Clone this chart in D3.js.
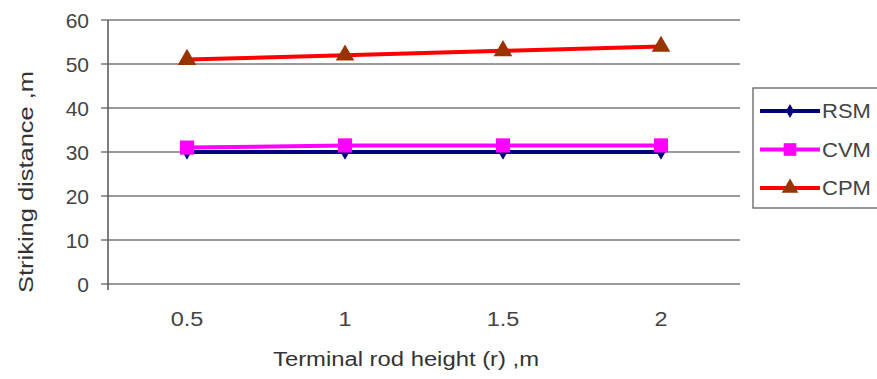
<!DOCTYPE html>
<html><head><meta charset="utf-8">
<script src="https://cdn.jsdelivr.net/npm/d3@7"></script>
<style>body{margin:0;background:#fff;} text{font-family:"Liberation Sans",Arial,sans-serif;}</style>
</head><body><svg id="c" width="877" height="379"></svg>
<script>
const categories = ["0.5", "1", "1.5", "2"];
const rsm = [30, 30, 30, 30];
const cvm = [31, 31.5, 31.5, 31.5];
const cpm = [51, 52, 53, 54];
const yTicks = [0, 10, 20, 30, 40, 50, 60];
const seriesNames = ["RSM", "CVM", "CPM"];

(function () {
const svg = d3.select("#c");
const mLeft = 108, mRight = 740, mTop = 20, mBottom = 284;
const x = d3.scaleBand().domain(categories).range([mLeft, mRight]);
const y = d3.scaleLinear().domain([0, 60]).range([mBottom, mTop]);
const textColor = "#444";

// gridlines
svg.append("g").selectAll("line").data(yTicks).join("line")
  .attr("x1", mLeft - 7).attr("x2", mRight)
  .attr("y1", d => y(d)).attr("y2", d => y(d))
  .attr("stroke", "#7a7a7a").attr("stroke-width", 1.5);
// y axis line
svg.append("line").attr("x1", mLeft).attr("x2", mLeft).attr("y1", mTop).attr("y2", mBottom + 6)
  .attr("stroke", "#555").attr("stroke-width", 1.5);
// y tick labels
svg.append("g").selectAll("text").data(yTicks).join("text")
  .attr("x", 89).attr("y", d => y(d)).attr("dy", "0.36em")
  .attr("text-anchor", "end").attr("font-size", 21).attr("fill", textColor).text(d => d);
// x tick labels
svg.append("g").selectAll("text").data(categories).join("text")
  .attr("transform", d => `translate(${x(d) + x.bandwidth() / 2},326) scale(1.12,1)`)
  .attr("text-anchor", "middle").attr("font-size", 21).attr("fill", textColor).text(d => d);
// axis titles
svg.append("text").attr("x", 273).attr("y", 366)
  .attr("font-size", 20).attr("fill", "#333")
  .attr("textLength", 266).attr("lengthAdjust", "spacingAndGlyphs")
  .text("Terminal rod height (r) ,m");
svg.append("text").attr("transform", "translate(33,293) rotate(-90)")
  .attr("font-size", 20).attr("fill", "#333")
  .attr("textLength", 222).attr("lengthAdjust", "spacingAndGlyphs")
  .text("Striking distance ,m");

const cx = d => x(d) + x.bandwidth() / 2;
const series = [
  {name: "RSM", vals: rsm, line: "#000080", mark: "#000080", sym: d3.symbolDiamond, size: 70},
  {name: "CVM", vals: cvm, line: "#ff00ff", mark: "#ff00ff", sym: d3.symbolSquare, size: 200},
  {name: "CPM", vals: cpm, line: "#ff0000", mark: "#993300", sym: d3.symbolTriangle, size: 150}
];
const lineGen = d3.line().x(d => cx(d.c)).y(d => y(d.v));
series.forEach(s => {
  const pts = categories.map((c, i) => ({c, v: s.vals[i]}));
  svg.append("path").datum(pts).attr("d", lineGen).attr("fill", "none")
    .attr("stroke", s.line).attr("stroke-width", 4);
  svg.append("g").selectAll("path").data(pts).join("path")
    .attr("transform", d => `translate(${cx(d.c)},${y(d.v)})`)
    .attr("d", d3.symbol().type(s.sym).size(s.size)).attr("fill", s.mark);
});

// legend
const lg = svg.append("g");
lg.append("rect").attr("x", 753).attr("y", 88).attr("width", 130).attr("height", 120)
  .attr("fill", "#fff").attr("stroke", "#555").attr("stroke-width", 1.2);
series.forEach((s, i) => {
  const ly = 111 + i * 38.5;
  lg.append("line").attr("x1", 760).attr("x2", 820).attr("y1", ly).attr("y2", ly)
    .attr("stroke", s.line).attr("stroke-width", 4);
  lg.append("path").attr("transform", `translate(790,${ly})`)
    .attr("d", d3.symbol().type(s.sym).size(s.size * 0.8)).attr("fill", s.mark);
  lg.append("text").attr("transform", `translate(822,${ly + 7}) scale(1.1,1)`)
    .attr("font-size", 20).attr("fill", "#444").text(seriesNames[i]);
});
})();
</script></body></html>
